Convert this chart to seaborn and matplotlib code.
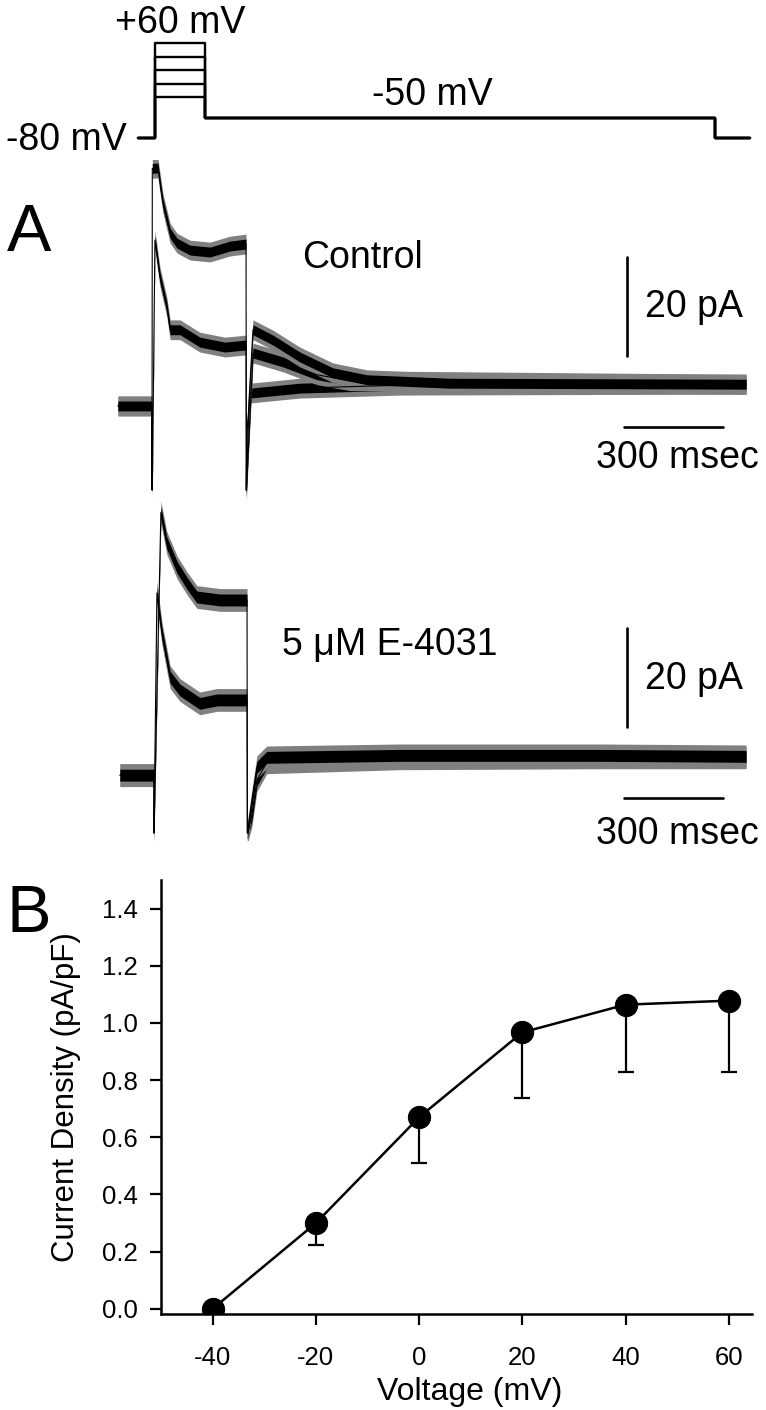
import matplotlib
matplotlib.use('Agg')
import matplotlib.pyplot as plt
from matplotlib.ticker import FormatStrFormatter
import seaborn as sns

# ---- voltage protocol (ms, mV) ----
proto_t = [61, 112, 112, 264, 264, 1809, 1809, 1915]
hold_mv = -80
tail_mv = -50
test_mv = [60, 40, 20, 0, -20]

# ---- Control sweeps (ms, pA) ----
ctrl_t1 = [0, 103, 103, 104, 121, 136, 158, 179, 218, 279, 339, 385, 388, 389, 397, 409, 470, 551, 651, 754, 1006, 1903]
ctrl_i1 = [0, 0, -17, 48, 48.1, 41.0, 34.9, 32.9, 31.5, 31.1, 32.3, 32.7, 32.7, -17, 1.2, 15.4, 13.3, 9.9, 6.7, 5.3, 4.6, 4.4]
ctrl_t2 = [0, 103, 104, 112, 127, 148, 158, 188, 248, 324, 385, 388, 389, 409, 500, 603, 703, 1903]
ctrl_i2 = [0, 0, -17, 33.5, 26.1, 20.0, 15.4, 15.4, 12.9, 11.9, 12.3, 12.3, -17, 10.7, 8.9, 6.3, 5.1, 4.4]
ctrl_t3 = [388, 391, 400, 551, 854, 1903]
ctrl_i3 = [-17, -5, 2.6, 3.6, 4.2, 4.4]
ctrl_noise = (1.0, 2.0)   # core / spike half-width, pA

# ---- 5 uM E-4031 sweeps (ms, pA) ----
e4_t1 = [6, 109, 109, 130, 148, 179, 209, 239, 309, 391, 392, 406, 421, 451, 854, 1460, 1903]
e4_i1 = [0, 0, -11.7, 53.1, 46.9, 42.0, 38.8, 36.0, 35.4, 35.4, -11.7, -5.1, 1.6, 3.6, 4.0, 4.0, 3.8]
e4_t2 = [6, 109, 109, 118, 133, 158, 188, 248, 300, 391, 392, 406, 421, 451, 854, 1460, 1903]
e4_i2 = [0, 0, -11.7, 36.8, 28.7, 19.8, 17.2, 14.5, 15.2, 15.2, -11.7, -8.0, -1.0, 2.6, 3.4, 3.6, 3.6]
e4_noise = (1.2, 2.3)

# ---- panel B: I-V relation ----
volt = [-40, -20, 0, 20, 40, 60]
density = [0.0, 0.30, 0.67, 0.967, 1.064, 1.078]
sem = [0.0, 0.076, 0.161, 0.23, 0.234, 0.25]

bar_ms = 300
bar_pa = 20

sns.set_theme(style='ticks')
plt.rcParams['font.family'] = ['Liberation Sans', 'DejaVu Sans']
plt.rcParams['axes.unicode_minus'] = False
plt.rcParams.update({'text.color': 'black', 'axes.labelcolor': 'black',
                     'xtick.color': 'black', 'ytick.color': 'black',
                     'axes.edgecolor': 'black'})

W, H = 766, 1410
fig = plt.figure(figsize=(W / 100, H / 100), dpi=100)

def px_axes(x0, y0, x1, y1):
    return fig.add_axes([x0 / W, 1 - y1 / H, (x1 - x0) / W, (y1 - y0) / H])

t_lim = (-54.5, 1963.6)
big = 27

# protocol
ax_p = px_axes(100, 0, 766, 160)
for lv in test_mv:
    v = [hold_mv, hold_mv, lv, lv, tail_mv, tail_mv, hold_mv, hold_mv]
    sns.lineplot(x=proto_t, y=v, sort=False, estimator=None, color='black', linewidth=1.7, ax=ax_p)
ax_p.set_xlim(*t_lim)
ax_p.set_ylim(-112.3, 123.3)
ax_p.set_axis_off()
ax_p.text(188, 74.7, '+60 mV', ha='center', va='baseline', fontsize=big)
ax_p.text(954, -31.3, '-50 mV', ha='center', va='baseline', fontsize=big)
ax_p.text(27, -97.6, '-80 mV', ha='right', va='baseline', fontsize=big)


def draw_trace(ax, t, i, noise):
    core, spike = noise
    lo2 = [v - spike for v in i]
    hi2 = [v + spike for v in i]
    lo1 = [v - core for v in i]
    hi1 = [v + core for v in i]
    ax.fill_between(t, lo2, hi2, color='0.5', linewidth=0)
    ax.fill_between(t, lo1, hi1, color='black', linewidth=0)
    sns.lineplot(x=t, y=i, sort=False, estimator=None, color='black', linewidth=0.8, ax=ax)


def scale_bars(ax, vt, vi, ht, hi, lab_i, msec_i):
    ax.plot([vt, vt], [vi, vi + bar_pa], color='black', linewidth=1.9)
    ax.plot([ht, ht + bar_ms], [hi, hi], color='black', linewidth=1.9)
    ax.text(vt + 55, lab_i, '%d pA' % bar_pa, ha='left', va='baseline', fontsize=big)
    ax.text(ht + 161, msec_i, '%d msec' % bar_ms, ha='center', va='baseline', fontsize=big)


# Control
ax_c = px_axes(100, 160, 766, 500)
draw_trace(ax_c, ctrl_t3, ctrl_i3, ctrl_noise)
draw_trace(ax_c, ctrl_t2, ctrl_i2, ctrl_noise)
draw_trace(ax_c, ctrl_t1, ctrl_i1, ctrl_noise)
ax_c.set_xlim(*t_lim)
ax_c.set_ylim(-19.0, 49.7)
ax_c.set_axis_off()
ax_c.text(742, 27.9, 'Control', ha='center', va='baseline', fontsize=big)
scale_bars(ax_c, 1542, 10.1, 1533, -4.2, 18.0, -12.5)

# E-4031
ax_e = px_axes(100, 500, 766, 840)
draw_trace(ax_e, e4_t2, e4_i2, e4_noise)
draw_trace(ax_e, e4_t1, e4_i1, e4_noise)
ax_e.set_xlim(*t_lim)
ax_e.set_ylim(-13.1, 55.6)
ax_e.set_axis_off()
ax_e.text(824, 24.2, '5 μM E-4031', ha='center', va='baseline', fontsize=big)
scale_bars(ax_e, 1542, 9.7, 1533, -4.6, 17.4, -13.9)

fig.text(7 / W, 1 - 251 / H, 'A', fontsize=48, ha='left', va='baseline')
fig.text(7 / W, 1 - 932 / H, 'B', fontsize=48, ha='left', va='baseline')

# panel B
ax_b = px_axes(161, 880, 752, 1314)
low = sem
high = [0] * len(sem)
ax_b.errorbar(volt, density, yerr=[low, high], fmt='none', ecolor='black',
              elinewidth=1.6, capsize=5.5, capthick=1.6, zorder=1)
sns.lineplot(x=volt, y=density, color='black', linewidth=1.8, marker='o',
             markersize=16, markeredgecolor='black', markerfacecolor='black', ax=ax_b, zorder=3)
ax_b.set_xlim(-50, 64.5)
ax_b.set_ylim(-0.018, 1.5)
ax_b.set_xticks(volt)
ax_b.set_yticks([0, 0.2, 0.4, 0.6, 0.8, 1.0, 1.2, 1.4])
ax_b.yaxis.set_major_formatter(FormatStrFormatter('%.1f'))
sns.despine(ax=ax_b)
for s in ['left', 'bottom']:
    ax_b.spines[s].set_linewidth(1.8)
ax_b.tick_params(axis='both', direction='out', length=8, width=1.6, labelsize=18.5, color='black')
ax_b.tick_params(axis='x', pad=15)
ax_b.tick_params(axis='y', pad=9)
ax_b.set_xlabel('Voltage (mV)', fontsize=23)
ax_b.set_ylabel('Current Density (pA/pF)', fontsize=22.5)
ax_b.xaxis.set_label_coords(0.522, -0.146)
ax_b.yaxis.set_label_coords(-0.135, 0.5)

fig.savefig('out.png', dpi=100)
